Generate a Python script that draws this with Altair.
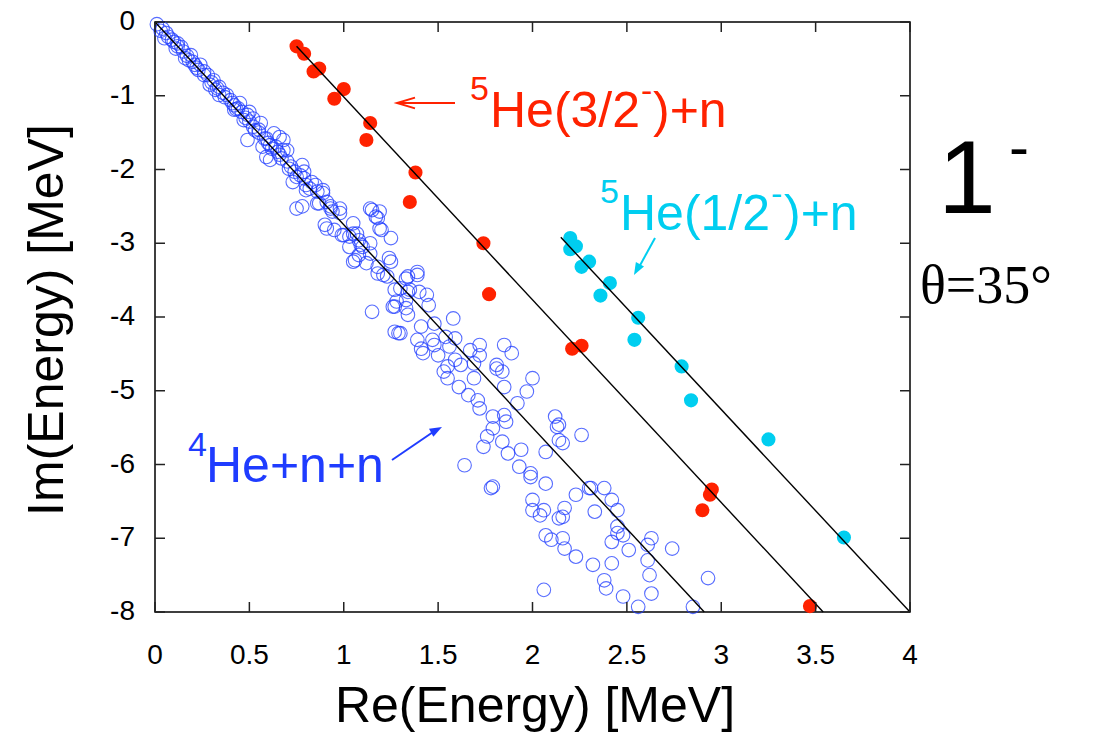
import altair as alt
import pandas as pd

# ---------------- data ----------------
blue_re = [0.04,0.06,0.05,0.09,0.12,0.11,0.14,0.15,0.16,0.19,0.20,0.24,0.23,0.26,0.28,0.31,0.29,0.32,0.34,0.34,
           0.38,0.40,0.42,0.44,0.46,0.49,0.47,0.50,0.52,0.55,0.49,0.59,0.61,0.64,0.65,0.68,0.67,0.70,0.72,0.74,
           0.73,0.77,0.79,0.80,0.82,0.86,0.89,0.75,0.91,0.98,0.94,1.14,1.19,
           0.01,0.07,0.12,0.17,0.21,0.26,0.33,0.37,0.43,0.55,0.58,0.62,
           0.03,0.10,0.18,0.22,0.30,0.36,0.41,0.48,0.53,0.60,0.66,0.71,
           0.87,0.93,1.15,1.18,1.20,1.25,0.91,0.95,0.99,1.05,1.05,1.08,1.03,1.10,1.14,1.05,1.12,1.18,1.21,1.25,
           1.27,1.27,1.15,1.27,1.29,
           0.85,0.89,0.78,0.86,0.93,0.98,0.90,1.00,1.03,1.07,1.17,1.19,1.09,1.14,1.08,1.06,1.24,1.18,1.23,1.34,
           1.39,1.30,1.35,1.40,
           1.33,1.39,1.34,1.44,1.28,1.33,1.26,1.33,1.45,1.34,1.58,1.41,1.48,1.30,1.39,1.47,1.54,1.59,1.41,1.48,
           1.42,1.56,1.67,1.72,1.72,1.50,1.59,1.85,1.89,1.55,1.62,1.81,1.69,
           1.81,1.84,1.53,1.55,1.61,1.69,1.66,1.71,1.72,1.85,2.00,1.97,1.92,1.79,1.85,1.86,2.12,2.14,1.79,1.76,
           1.84,1.74,1.94,1.87,2.07,2.14,2.16,1.93,1.64,1.99,1.78,1.79,2.06,
           1.99,2.07,2.13,2.26,2.00,2.00,2.04,2.06,2.17,2.14,2.16,2.23,2.30,2.31,2.38,2.33,2.42,2.45,2.07,2.10,
           2.16,2.17,2.23,2.45,2.45,2.48,2.42,2.51,2.63,2.61,2.74,2.61,2.62,2.63,2.32,2.42,2.38,2.39,2.48,2.56,
           2.85,2.93,
           0.61,0.59,0.70,0.68,0.66,0.75,0.78,0.79,0.83,0.56,0.52,0.50,0.45,0.42,0.63,0.57,0.80]
blue_im = [-0.09,-0.15,-0.22,-0.24,-0.29,-0.36,-0.34,-0.40,-0.49,-0.45,-0.54,-0.58,-0.65,-0.67,-0.72,-0.79,-0.85,-0.92,-0.88,-0.99,
           -0.99,-1.06,-1.13,-1.17,-1.22,-1.26,-1.33,-1.35,-1.42,-1.46,-1.60,-1.58,-1.67,-1.69,-1.76,-1.74,-1.85,-1.89,-1.96,-2.03,
           -2.17,-2.08,-2.12,-2.21,-2.26,-2.30,-2.28,-2.53,-2.44,-2.53,-2.57,-2.53,-2.57,
           -0.03,-0.20,-0.33,-0.46,-0.58,-0.72,-0.90,-1.02,-1.18,-1.50,-1.58,-1.72,
           -0.12,-0.27,-0.52,-0.62,-0.82,-0.96,-1.10,-1.30,-1.47,-1.64,-1.80,-1.99,
           -2.46,-2.53,-2.55,-2.66,-2.82,-2.93,-2.80,-2.82,-2.89,-2.73,-2.87,-2.96,-3.05,-3.05,-3.14,-3.25,-3.27,-3.32,-3.43,-3.25,
           -3.63,-3.86,-3.93,-4.20,-4.22,
           -2.21,-2.32,-2.50,-2.46,-2.50,-2.59,-2.75,-2.89,-2.91,-2.87,-2.64,-2.80,-3.02,-3.00,-3.16,-3.23,-3.20,-3.41,-3.45,-3.45,
           -3.39,-3.61,-3.63,-3.66,
           -3.48,-3.43,-3.66,-3.70,-3.79,-3.77,-3.86,-3.88,-3.84,-3.97,-4.02,-4.13,-4.09,-4.22,-4.31,-4.31,-4.27,-4.29,-4.43,-4.38,
           -4.49,-4.40,-4.45,-4.38,-4.52,-4.52,-4.58,-4.38,-4.49,-4.67,-4.65,-4.65,-4.63,
           -4.70,-4.74,-4.74,-4.83,-4.95,-4.83,-5.06,-5.13,-5.24,-4.95,-4.83,-5.01,-5.17,-5.35,-5.33,-5.42,-5.35,-5.46,-5.51,-5.62,
           -5.69,-5.76,-5.80,-5.85,-5.83,-5.67,-5.71,-6.03,-6.01,-6.12,-6.32,-6.30,-7.70,
           -6.17,-6.26,-5.49,-5.60,-6.48,-6.62,-6.69,-6.62,-6.59,-6.73,-6.71,-6.41,-6.32,-6.32,-6.32,-6.64,-6.48,-6.62,-6.96,-7.02,
           -7.00,-7.14,-7.25,-6.84,-6.93,-6.96,-7.05,-7.16,-7.00,-7.09,-7.14,-7.30,-7.50,-7.75,-7.36,-7.34,-7.57,-7.68,-7.79,-7.93,
           -7.93,-7.54,
           -1.87,-1.83,-1.74,-1.60,-1.56,-2.10,-1.94,-2.03,-2.17,-1.37,-1.31,-1.22,-1.10,-1.19,-1.51,-1.69,-2.28]

red_re = [0.75, 0.79, 0.84, 0.87, 0.95, 1.00, 1.14, 1.12, 1.38, 1.35, 1.74, 1.77, 2.21, 2.26, 2.95, 2.94, 2.90, 3.47]
red_im = [-0.33, -0.43, -0.67, -0.63, -1.04, -0.91, -1.37, -1.60, -2.04, -2.44, -3.00, -3.69, -4.43, -4.39, -6.34, -6.41, -6.62, -7.92]

cyan_re = [2.20, 2.23, 2.20, 2.30, 2.26, 2.41, 2.36, 2.56, 2.54, 2.79, 2.84, 3.25, 3.65]
cyan_im = [-2.93, -3.04, -3.08, -3.25, -3.32, -3.54, -3.71, -4.01, -4.31, -4.67, -5.13, -5.66, -6.99]

# rotated-cut lines (start and end points)
line_re = [0.0, 2.91, 0.75, 3.54, 2.15, 4.00]
line_im = [0.0, -8.0, -0.33, -8.0, -2.92, -8.0]
line_id = ["a", "a", "b", "b", "c", "c"]

x_ticks = [0, 0.5, 1, 1.5, 2, 2.5, 3, 3.5, 4]
x_tick_labels = ["0", "0.5", "1", "1.5", "2", "2.5", "3", "3.5", "4"]
y_ticks = [0, -1, -2, -3, -4, -5, -6, -7, -8]
y_tick_labels = ["0", "-1", "-2", "-3", "-4", "-5", "-6", "-7", "-8"]

# ---------------- layout ----------------
W, H = 755, 590
L, T = 155, 22
SANS = "Liberation Sans"
SERIF = "Liberation Serif"
RED = "#ff2200"
CYAN = "#00cef0"
BLUE = "#1f3cff"

xs = alt.Scale(domain=[0, 4], nice=False, zero=False)
ys = alt.Scale(domain=[-8, 0], nice=False, zero=False)

df_blue = pd.DataFrame({"re": blue_re, "im": blue_im})
df_red = pd.DataFrame({"re": red_re, "im": red_im})
df_cyan = pd.DataFrame({"re": cyan_re, "im": cyan_im})
df_line = pd.DataFrame({"re": line_re, "im": line_im, "id": line_id})

blue = alt.Chart(df_blue).mark_point(shape="circle", filled=False, size=185, color=BLUE,
                                      strokeWidth=1.1, opacity=0.75).encode(
    x=alt.X("re:Q", scale=xs, axis=None),
    y=alt.Y("im:Q", scale=ys, axis=None),
)
red = alt.Chart(df_red).mark_point(shape="circle", filled=True, size=200, color=RED, opacity=1).encode(
    x=alt.X("re:Q", scale=xs, axis=None), y=alt.Y("im:Q", scale=ys, axis=None))
cyan = alt.Chart(df_cyan).mark_point(shape="circle", filled=True, size=200, color=CYAN, opacity=1).encode(
    x=alt.X("re:Q", scale=xs, axis=None), y=alt.Y("im:Q", scale=ys, axis=None))
lines = alt.Chart(df_line).mark_line(color="black", strokeWidth=1.4).encode(
    x=alt.X("re:Q", scale=xs, axis=None), y=alt.Y("im:Q", scale=ys, axis=None), detail="id:N")

# inward ticks on all four sides and tick labels
df_xt = pd.DataFrame({"v": x_ticks, "lab": x_tick_labels})
df_yt = pd.DataFrame({"v": y_ticks, "lab": y_tick_labels})
tick_style = dict(color="#222222", strokeWidth=1.5)
tb = alt.Chart(df_xt).mark_rule(**tick_style).encode(
    x=alt.X("v:Q", scale=xs, axis=None), y=alt.value(H), y2=alt.value(H - 10))
tt = alt.Chart(df_xt).mark_rule(**tick_style).encode(
    x=alt.X("v:Q", scale=xs, axis=None), y=alt.value(0), y2=alt.value(10))
tl = alt.Chart(df_yt).mark_rule(**tick_style).encode(
    y=alt.Y("v:Q", scale=ys, axis=None), x=alt.value(0), x2=alt.value(10))
tr = alt.Chart(df_yt).mark_rule(**tick_style).encode(
    y=alt.Y("v:Q", scale=ys, axis=None), x=alt.value(W - 10), x2=alt.value(W))
xlab = alt.Chart(df_xt).mark_text(align="center", baseline="alphabetic", font=SANS, fontSize=28,
                                   color="black").encode(
    x=alt.X("v:Q", scale=xs, axis=None), y=alt.value(H + 52), text="lab:N")
ylab = alt.Chart(df_yt).mark_text(align="right", baseline="middle", font=SANS, fontSize=28,
                                   color="black").encode(
    y=alt.Y("v:Q", scale=ys, axis=None), x=alt.value(-20), text="lab:N")

# ---------------- annotation text (canvas pixel positions) ----------------
lab_text = ["5", "He(3/2", "-", ")+n",
            "5", "He(1/2", "-", ")+n",
            "4", "He+n+n",
            "1", "-",
            "Re(Energy) [MeV]"]
lab_x = [470, 490, 641, 653,
         600, 620, 771, 784,
         188, 206,
         938, 1009,
         535]
lab_y = [100, 127, 102, 127,
         203, 230, 205, 230,
         456, 482,
         213, 167,
         722]
lab_size = [34, 50, 34, 50,
            34, 50, 34, 50,
            34, 50,
            104, 60,
            50]
lab_color = [RED, RED, RED, RED,
             CYAN, CYAN, CYAN, CYAN,
             BLUE, BLUE,
             "black", "black",
             "black"]
lab_align = ["left"] * 12 + ["center"]

df_lab = pd.DataFrame({"t": lab_text, "px": [v - L for v in lab_x], "py": [v - T for v in lab_y],
                       "fs": lab_size, "c": lab_color, "a": lab_align})
labels_left = alt.Chart(df_lab[df_lab.a == "left"]).mark_text(
    align="left", baseline="alphabetic", font=SANS).encode(
    x=alt.X("px:Q", scale=None, axis=None), y=alt.Y("py:Q", scale=None, axis=None),
    text="t:N", size=alt.Size("fs:Q", scale=None, legend=None), color=alt.Color("c:N", scale=None, legend=None))
labels_center = alt.Chart(df_lab[df_lab.a == "center"]).mark_text(
    align="center", baseline="alphabetic", font=SANS).encode(
    x=alt.X("px:Q", scale=None, axis=None), y=alt.Y("py:Q", scale=None, axis=None),
    text="t:N", size=alt.Size("fs:Q", scale=None, legend=None), color=alt.Color("c:N", scale=None, legend=None))

ytitle = alt.Chart(pd.DataFrame({"t": ["Im(Energy) [MeV]"]})).mark_text(
    align="center", baseline="alphabetic", font=SANS, fontSize=50, angle=270, color="black").encode(
    x=alt.value(63 - L), y=alt.value(320 - T), text="t:N")
theta = alt.Chart(pd.DataFrame({"t": ["\u03b8=35\u00b0"]})).mark_text(
    align="left", baseline="alphabetic", font=SERIF, fontSize=54, color="black").encode(
    x=alt.value(920 - L), y=alt.value(303 - T), text="t:N")

# ---------------- arrows ----------------
arr_x = [455, 392, 655]
arr_y = [103, 460, 238]
arr_x2 = [399, 436, 638]
arr_y2 = [103, 430, 269]
arr_c = [RED, BLUE, CYAN]
df_arr = pd.DataFrame({"x": [v - L for v in arr_x], "y": [v - T for v in arr_y],
                       "x2": [v - L for v in arr_x2], "y2": [v - T for v in arr_y2], "c": arr_c})
shafts = alt.Chart(df_arr).mark_rule(strokeWidth=2).encode(
    x=alt.X("x:Q", scale=None, axis=None), y=alt.Y("y:Q", scale=None, axis=None),
    x2="x2:Q", y2="y2:Q", color=alt.Color("c:N", scale=None, legend=None))

open_head = alt.Chart(pd.DataFrame({"x": [397 - L], "y": [103 - T]})).mark_point(
    shape="M1,-0.3L0,0L1,0.3", filled=False, size=1296, color=RED, strokeWidth=2, opacity=1).encode(
    x=alt.X("x:Q", scale=None, axis=None), y=alt.Y("y:Q", scale=None, axis=None))

head_df = pd.DataFrame({"x": [442 - L, 634 - L], "y": [427 - T, 275 - T],
                        "ang": [62, 209], "c": [BLUE, CYAN]})
filled_heads = alt.Chart(head_df).mark_point(
    shape="M0,0L-0.38,1L0.38,1Z", filled=True, size=600, opacity=1).encode(
    x=alt.X("x:Q", scale=None, axis=None), y=alt.Y("y:Q", scale=None, axis=None),
    angle=alt.Angle("ang:Q", scale=None), color=alt.Color("c:N", scale=None, legend=None))

chart = alt.layer(
    blue, red, cyan, lines, tb, tt, tl, tr, xlab, ylab,
    labels_left, labels_center, ytitle, theta, shafts, open_head, filled_heads
).properties(
    width=W, height=H,
    autosize=alt.AutoSizeParams(type="none"),
    padding={"left": L, "top": T, "right": 1101 - L - W, "bottom": 733 - T - H},
    background="white",
).configure_view(stroke="black", strokeWidth=1.5)

chart.save("out.html", embed_options={"renderer": "svg", "actions": False})
